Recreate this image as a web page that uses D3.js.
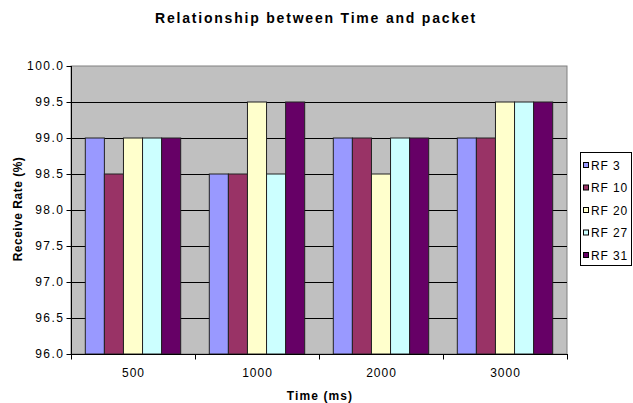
<!DOCTYPE html>
<html>
<head>
<meta charset="utf-8">
<script src="https://cdn.jsdelivr.net/npm/d3@7/dist/d3.min.js"></script>
<style>
  html, body { margin: 0; padding: 0; background: #ffffff; }
  svg { display: block; font-family: Arial, "Liberation Sans", sans-serif; }
</style>
</head>
<body>
<svg id="chart" width="633" height="403"></svg>
<script>
// Receive rate per transmit interval, one series per RF setting
const categories = ["500", "1000", "2000", "3000"];
const seriesNames = ["RF 3", "RF 10", "RF 20", "RF 27", "RF 31"];
const rf3  = [99.0, 98.5, 99.0, 99.0];
const rf10 = [98.5, 98.5, 99.0, 99.0];
const rf20 = [99.0, 99.5, 98.5, 99.5];
const rf27 = [99.0, 98.5, 99.0, 99.5];
const rf31 = [99.0, 99.5, 99.0, 99.5];
const yTicks = [96.0, 96.5, 97.0, 97.5, 98.0, 98.5, 99.0, 99.5, 100.0];
const colors = ["#9999FF", "#993366", "#FFFFCC", "#CCFFFF", "#660066"];

const seriesValues = [rf3, rf10, rf20, rf27, rf31];

const svg = d3.select("#chart");
const plotLeft = 71, plotRight = 567, plotTop = 66, plotBottom = 354;

const x0 = d3.scaleBand().domain(categories).range([plotLeft, plotRight]).paddingInner(0).paddingOuter(0);
// 150% gap between clusters: band = 5 bars + 1.5 bars
const barW = x0.bandwidth() / 6.5;
const gapHalf = barW * 0.75;
const x1 = d3.scaleBand().domain(seriesNames)
  .range([gapHalf, x0.bandwidth() - gapHalf]).padding(0);
const y = d3.scaleLinear().domain([96, 100]).range([plotBottom, plotTop]);

// plot area
svg.append("rect")
  .attr("x", plotLeft).attr("y", plotTop)
  .attr("width", plotRight - plotLeft).attr("height", plotBottom - plotTop)
  .attr("fill", "#C0C0C0")
  .attr("stroke", "#808080").attr("stroke-width", 1);

// horizontal gridlines
svg.append("g").selectAll("line")
  .data(yTicks.slice(1, -1))
  .join("line")
  .attr("x1", plotLeft).attr("x2", plotRight)
  .attr("y1", d => Math.round(y(d)) + 0.5).attr("y2", d => Math.round(y(d)) + 0.5)
  .attr("stroke", "#000").attr("stroke-width", 1);

// bars
const groups = svg.append("g").selectAll("g")
  .data(categories)
  .join("g")
  .attr("transform", d => `translate(${x0(d)},0)`);

groups.selectAll("rect")
  .data((c, i) => seriesNames.map((s, j) => ({ s, j, v: seriesValues[j][i] })))
  .join("rect")
  .attr("x", d => x1(d.s))
  .attr("y", d => y(d.v))
  .attr("width", x1.bandwidth())
  .attr("height", d => y(96) - y(d.v))
  .attr("fill", d => colors[d.j])
  .attr("stroke", "#222").attr("stroke-width", 1);

// y axis
const yAxis = d3.axisLeft(y).tickValues(yTicks).tickFormat(d3.format(".1f")).tickSize(5).tickPadding(2);
const gy = svg.append("g").attr("transform", `translate(${plotLeft + 0.5},0)`).call(yAxis);
gy.selectAll("text").attr("font-size", 12).attr("letter-spacing", 1.5)
  .attr("fill", "#000").attr("font-family", "Arial, 'Liberation Sans', sans-serif");
gy.selectAll("line").attr("stroke", "#000");
gy.select(".domain").attr("stroke", "#000").attr("d", `M0,${plotTop}V${plotBottom}`);

// x axis: ticks sit on cluster boundaries, labels at cluster centres
const gx = svg.append("g").attr("transform", `translate(0,${plotBottom + 0.5})`);
gx.append("line").attr("x1", plotLeft).attr("x2", plotRight + 1).attr("y1", 0).attr("y2", 0).attr("stroke", "#000");
const boundaries = categories.map(c => x0(c)).concat([plotRight]);
gx.selectAll("line.tick")
  .data(boundaries)
  .join("line").attr("class", "tick")
  .attr("x1", d => Math.round(d) + 0.5).attr("x2", d => Math.round(d) + 0.5)
  .attr("y1", 0).attr("y2", 5).attr("stroke", "#000");
gx.selectAll("text")
  .data(categories)
  .join("text")
  .attr("x", d => x0(d) + x0.bandwidth() / 2 + 0.5)
  .attr("y", 22)
  .attr("text-anchor", "middle")
  .attr("font-size", 12).attr("letter-spacing", 1)
  .text(d => d);

// titles
svg.append("text")
  .attr("x", 316).attr("y", 23)
  .attr("text-anchor", "middle")
  .attr("font-size", 14).attr("font-weight", "bold").attr("letter-spacing", 1.8)
  .text("Relationship between Time and packet");

svg.append("text")
  .attr("x", 320).attr("y", 400)
  .attr("text-anchor", "middle")
  .attr("font-size", 12).attr("font-weight", "bold").attr("letter-spacing", 1.1)
  .text("Time (ms)");

svg.append("text")
  .attr("transform", `translate(21.5,${209}) rotate(-90)`)
  .attr("text-anchor", "middle")
  .attr("font-size", 12).attr("font-weight", "bold").attr("letter-spacing", 0.5)
  .text("Receive Rate (%)");

// legend
const legend = svg.append("g");
legend.append("rect")
  .attr("x", 580.5).attr("y", 152.5).attr("width", 51).attr("height", 113)
  .attr("fill", "#fff").attr("stroke", "#000");
const items = legend.selectAll("g.item")
  .data(seriesNames)
  .join("g").attr("class", "item")
  .attr("transform", (d, i) => `translate(583,${165 + i * 22.5})`);
items.append("rect")
  .attr("x", 0.5).attr("y", -2.5).attr("width", 5).attr("height", 5)
  .attr("fill", (d, i) => colors[i]).attr("stroke", "#000");
items.append("text")
  .attr("x", 8).attr("y", 4.5)
  .attr("font-size", 12).attr("letter-spacing", 0.9)
  .text(d => d);
</script>
</body>
</html>
